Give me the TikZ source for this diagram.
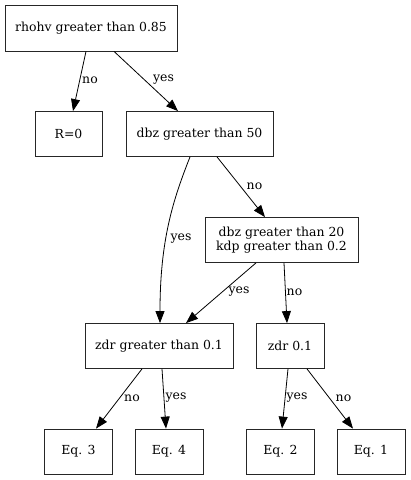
\documentclass[tikz,border=0pt]{standalone}
\usepackage{fontspec}
\setmainfont{DejaVu Serif}
\usetikzlibrary{arrows.meta}
\begin{document}
\begin{tikzpicture}[x=1bp,y=-1bp,
  box/.style={draw=black!85,line width=0.8bp,inner sep=0pt,align=center,
    font=\fontsize{12.5}{14.2}\selectfont,minimum height=45bp},
  lbl/.style={inner sep=0pt,font=\fontsize{12.5}{14.2}\selectfont},
  edge/.style={line width=0.8bp,-{Triangle[length=12bp,width=9bp]}}]
\useasboundingbox (0,0) rectangle (410,480);
\node[box,minimum width=172bp,minimum height=46bp] (rhohv) at (91,28) {rhohv greater than 0.85};
\node[box,minimum width=67bp] (r0) at (68.5,134) {R=0};
\node[box,minimum width=147bp] (dbz50) at (199.5,134) {dbz greater than 50};
\node[box,minimum width=153bp] (dbz20) at (281.5,240) {dbz greater than 20\\kdp greater than 0.2};
\node[box,minimum width=148bp] (zdr) at (159,346) {zdr greater than 0.1};
\node[box,minimum width=68bp] (zdr01) at (290,346) {zdr 0.1};
\node[box,minimum width=68bp] (eq3) at (78.5,451.5) {Eq. 3};
\node[box,minimum width=68bp] (eq4) at (169,451.5) {Eq. 4};
\node[box,minimum width=68bp] (eq2) at (280.5,451.5) {Eq. 2};
\node[box,minimum width=68bp] (eq1) at (371,451.5) {Eq. 1};

\draw[edge] ([xshift=-5bp]rhohv.south) -- ([xshift=4.5bp]r0.north);
\draw[edge] ([xshift=23bp]rhohv.south) -- ([xshift=-21.5bp]dbz50.north);
\draw[edge] ([xshift=-9.5bp]dbz50.south) .. controls (173,200) and (160,240) .. ([xshift=1bp]zdr.north);
\draw[edge] ([xshift=17.5bp]dbz50.south) -- ([xshift=-16.5bp]dbz20.north);
\draw[edge] ([xshift=-25.5bp]dbz20.south) -- ([xshift=27bp]zdr.north);
\draw[edge] ([xshift=2.5bp]dbz20.south) -- ([xshift=-3bp]zdr01.north);
\draw[edge] ([xshift=-17bp]zdr.south) -- ([xshift=17.5bp]eq3.north);
\draw[edge] ([xshift=3bp]zdr.south) -- ([xshift=-3bp]eq4.north);
\draw[edge] ([xshift=-2bp]zdr01.south) -- ([xshift=1.5bp]eq2.north);
\draw[edge] ([xshift=17bp]zdr01.south) -- ([xshift=-18bp]eq1.north);

\node[lbl] (l1) at (90,80) {no};
\node[lbl] (l2) at (163.5,80) {yes};
\node[lbl] (l3) at (181,239) {yes};
\node[lbl] (l4) at (254.5,186) {no};
\node[lbl] (l5) at (239,292) {yes};
\node[lbl] (l6) at (294.5,292) {no};
\node[lbl] (l7) at (132,398) {no};
\node[lbl] (l8) at (176,398) {yes};
\node[lbl] (l9) at (297,398) {yes};
\node[lbl] (l10) at (343.5,398) {no};
\end{tikzpicture}
\end{document}
